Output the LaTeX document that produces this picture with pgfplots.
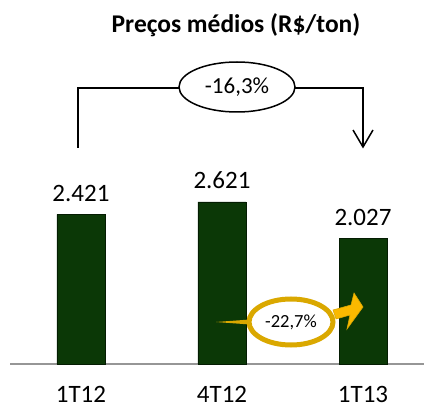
\documentclass[border=0pt]{standalone}
\usepackage{pgfplots}
\pgfplotsset{compat=1.18}
\usepackage{fontspec}
\setmainfont{Carlito}
\definecolor{bargreen}{RGB}{11,56,6}
\definecolor{bardark}{RGB}{4,28,2}
\definecolor{goldline}{RGB}{218,168,0}
\definecolor{goldfill}{RGB}{250,185,0}
\begin{document}
\begin{tikzpicture}[x=1pt,y=1pt]
\useasboundingbox (0,0) rectangle (424,408);
\begin{axis}[
  at={(10pt,44pt)}, anchor=south west,
  scale only axis, width=414pt, height=300pt,
  xmin=-0.5035, xmax=2.4326, ymin=0, ymax=4853.7,
  axis x line*=bottom, axis y line=none,
  x axis line style={draw={rgb,255:red,150;green,150;blue,150}, line width=1.5pt},
  xtick={0,1,2}, xticklabels={1T12,4T12,1T13},
  major tick length=0pt,
  xticklabel style={font=\fontsize{25}{30}\selectfont, anchor=base, yshift=-38pt},
  clip=false,
  point meta=explicit symbolic,
  nodes near coords,
  every node near coord/.append style={font=\fontsize{25}{30}\selectfont, anchor=base, yshift=13pt},
]
\addplot[ybar, bar width=48pt, fill=bargreen, draw=bardark, line width=0.8pt]
 coordinates {(0,2421) [2.421] (1,2621) [2.621] (2,2027) [2.027]};
\end{axis}
% title
\node[anchor=base, font=\bfseries\fontsize{25.5}{30}\selectfont] at (236,375) {Preços médios (R\$/ton)};
% bracket
\draw[line width=1.5pt] (78,260) -- (78,320) -- (179,320);
\draw[line width=1.5pt] (295,320) -- (363,320) -- (363,261);
\draw[line width=1.5pt] (353,278) -- (363,261) -- (373,278);
\draw[line width=1.5pt, fill=white] (237,321) ellipse [x radius=58, y radius=25];
\node[font=\fontsize{23}{27}\selectfont] at (237,321) {-16,3\%};
% yellow annotation
\fill[goldline] (216,86) -- (250,88.5) -- (250,83.5) -- cycle;
\fill[goldfill, draw=goldline, line width=0.6pt] (333,98) -- (351,103) -- (354,115) -- (363,101) -- (347,79) -- (350,93) -- (336,89) -- cycle;
\draw[goldline, line width=5pt, fill=white] (291,86) ellipse [x radius=42, y radius=23];
\node[font=\fontsize{18.5}{22}\selectfont] at (291,86) {-22,7\%};
\end{tikzpicture}
\end{document}
